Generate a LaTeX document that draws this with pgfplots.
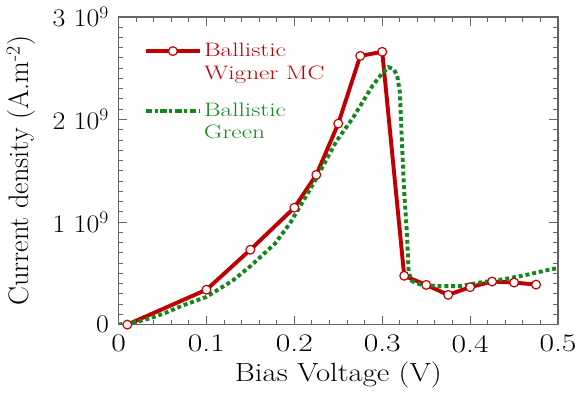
\documentclass[border=0pt]{standalone}
\usepackage{pgfplots}
\pgfplotsset{compat=1.18}
\definecolor{wred}{HTML}{C00000}
\definecolor{ggreen}{HTML}{12871C}
\newcommand\hs[1]{\scalebox{1.3}[1]{#1}}
\newcommand\xs[1]{\scalebox{1.25}[1]{#1}}
\newcommand\ys[1]{\scalebox{1.1}[1]{#1}}
\pgfplotsset{
  redleg/.style={legend image code/.code={\draw[mark repeat=2,mark phase=2,##1] plot coordinates {(0bp,6bp) (28bp,6bp) (56bp,6bp)};}},
  greenleg/.style={legend image code/.code={\draw[##1, dash pattern=on 7bp off 2.5bp on 3bp off 2.5bp] (0bp,6bp) -- (56bp,6bp);}},
}
\begin{document}
\fontsize{20}{23}\selectfont
\begin{tikzpicture}
\begin{axis}[
  scale only axis, width=450bp, height=315bp,
  xmin=0, xmax=0.5, ymin=0, ymax=3,
  xtick={0,0.1,0.2,0.3,0.4,0.5}, xticklabels={\xs{0},\xs{0.1},\xs{0.2},\xs{0.3},\xs{0.4},\xs{0.5}},
  ytick={0,1,2,3}, yticklabels={\ys{0},\ys{1 10\textsuperscript{9}},\ys{2 10\textsuperscript{9}},\ys{3 10\textsuperscript{9}}},
  minor x tick num=4, minor y tick num=9,
  tick align=inside,
  major tick length=9bp, minor tick length=5bp,
  axis line style={black!60, line width=1.3bp},
  every tick/.style={black!60, line width=1bp},
  ticklabel style={font=\fontsize{26}{30}\selectfont},
  yticklabel style={xshift=-3bp},
  xticklabel style={yshift=-4bp},
  xlabel={\scalebox{1.17}[1]{Bias Voltage (V)}},
  ylabel={Current density (A.m\textsuperscript{-2})},
  xlabel style={font=\fontsize{27}{31}\selectfont, at={(axis description cs:0.5,-0.162)}, anchor=center},
  ylabel style={font=\fontsize{29}{33}\selectfont, at={(axis description cs:-0.222,0.5)}, anchor=center},
  legend style={draw=none, fill=none, at={(0.05,0.934)}, anchor=north west,
    row sep=38bp, font=\fontsize{20}{23}\selectfont, cells={anchor=base west}},
]
\addplot[color=wred, line width=4bp, mark=*, mark size=4.5bp,
  mark options={fill=white, draw=wred, line width=1.2bp}, redleg]
coordinates {
(0.01,0) (0.1,0.34) (0.15,0.73) (0.2,1.14) (0.225,1.46) (0.25,1.96) (0.275,2.62) (0.3,2.66)
(0.325,0.476) (0.35,0.387) (0.375,0.29) (0.4,0.365) (0.425,0.42) (0.45,0.41) (0.475,0.39)
};
\addlegendentry{\textcolor{wred}{\begin{tabular}[t]{@{}l@{}}\hs{Ballistic}\\\hs{Wigner MC}\end{tabular}}}
\addplot[color=ggreen, line width=4bp, dash pattern=on 4bp off 3bp, greenleg]
coordinates {
(0,0) (0.02,0.025) (0.037,0.064) (0.055,0.12) (0.074,0.19) (0.1,0.27) (0.13,0.43) (0.15,0.57)
(0.178,0.79) (0.196,1.0) (0.222,1.38) (0.248,1.79) (0.267,2.02) (0.289,2.33) (0.3,2.45)
(0.307,2.51) (0.313,2.49) (0.317,2.43) (0.32,2.27) (0.322,1.86) (0.325,1.29) (0.328,0.90)
(0.33,0.52) (0.333,0.43) (0.337,0.41) (0.344,0.39) (0.363,0.375) (0.389,0.375) (0.411,0.41)
(0.44,0.445) (0.467,0.49) (0.492,0.54) (0.5,0.55)
};
\addlegendentry{\textcolor{ggreen}{\begin{tabular}[t]{@{}l@{}}\hs{Ballistic}\\\hs{Green}\end{tabular}}}
\end{axis}
\end{tikzpicture}
\end{document}
